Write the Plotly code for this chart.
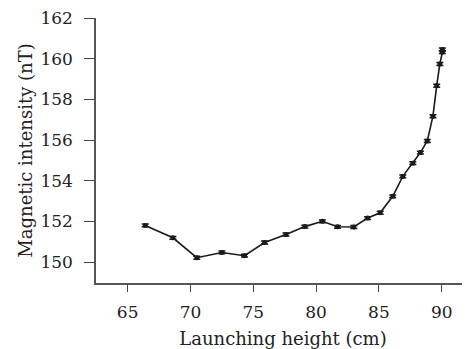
import plotly.graph_objects as go

heights = [66.4, 68.6, 70.5, 72.5, 74.3, 75.9, 77.6, 79.1, 80.5, 81.7, 83.0, 84.1,
           85.1, 86.1, 86.9, 87.7, 88.3, 88.85, 89.3, 89.6, 89.85, 90.05, 90.05]
intensity = [151.80, 151.19, 150.21, 150.47, 150.31, 150.96, 151.35, 151.74, 152.00,
             151.73, 151.72, 152.16, 152.42, 153.23, 154.21, 154.86, 155.38, 155.95,
             157.17, 158.67, 159.74, 160.32, 160.45]
errors = [0.07] * len(heights)

x_ticks = [65, 70, 75, 80, 85, 90]
y_ticks = [150, 152, 154, 156, 158, 160, 162]

font_family = "DejaVu Serif"

fig = go.Figure()
fig.add_trace(go.Scatter(
    x=heights, y=intensity, mode="lines+markers",
    line=dict(color="#1a1a1a", width=1.6),
    marker=dict(color="#1a1a1a", size=5),
    error_y=dict(type="data", array=errors, visible=True, color="#1a1a1a",
                 thickness=1.5, width=3.5),
    showlegend=False,
))

fig.update_layout(
    width=462, height=341,
    margin=dict(l=88, r=0, t=10, b=66, autoexpand=False),
    paper_bgcolor="white", plot_bgcolor="white",
    font=dict(family=font_family, size=17, color="#222"),
    xaxis=dict(
        range=[62.48, 92.25], tickvals=x_ticks, ticks="outside", ticklen=7,
        tickwidth=1.2, tickcolor="#444", showline=True, linecolor="#555",
        linewidth=1.5, showgrid=False, zeroline=False, automargin=False,
        ticklabelstandoff=6, ticklabeloverflow="allow",
        title=dict(text="Launching height (cm)", standoff=11, font=dict(size=18)),
        tickfont=dict(size=17),
    ),
    yaxis=dict(
        range=[148.967, 162.0], tickvals=y_ticks, ticks="outside", ticklen=10,
        tickwidth=1.2, tickcolor="#444", showline=True, linecolor="#555",
        linewidth=1.5, showgrid=False, zeroline=False, automargin=False,
        ticklabelstandoff=8, ticklabeloverflow="allow",
        title=dict(text="Magnetic intensity (nT)", standoff=3, font=dict(size=18)),
        tickfont=dict(size=17),
    ),
)

fig.write_html("out.html")
